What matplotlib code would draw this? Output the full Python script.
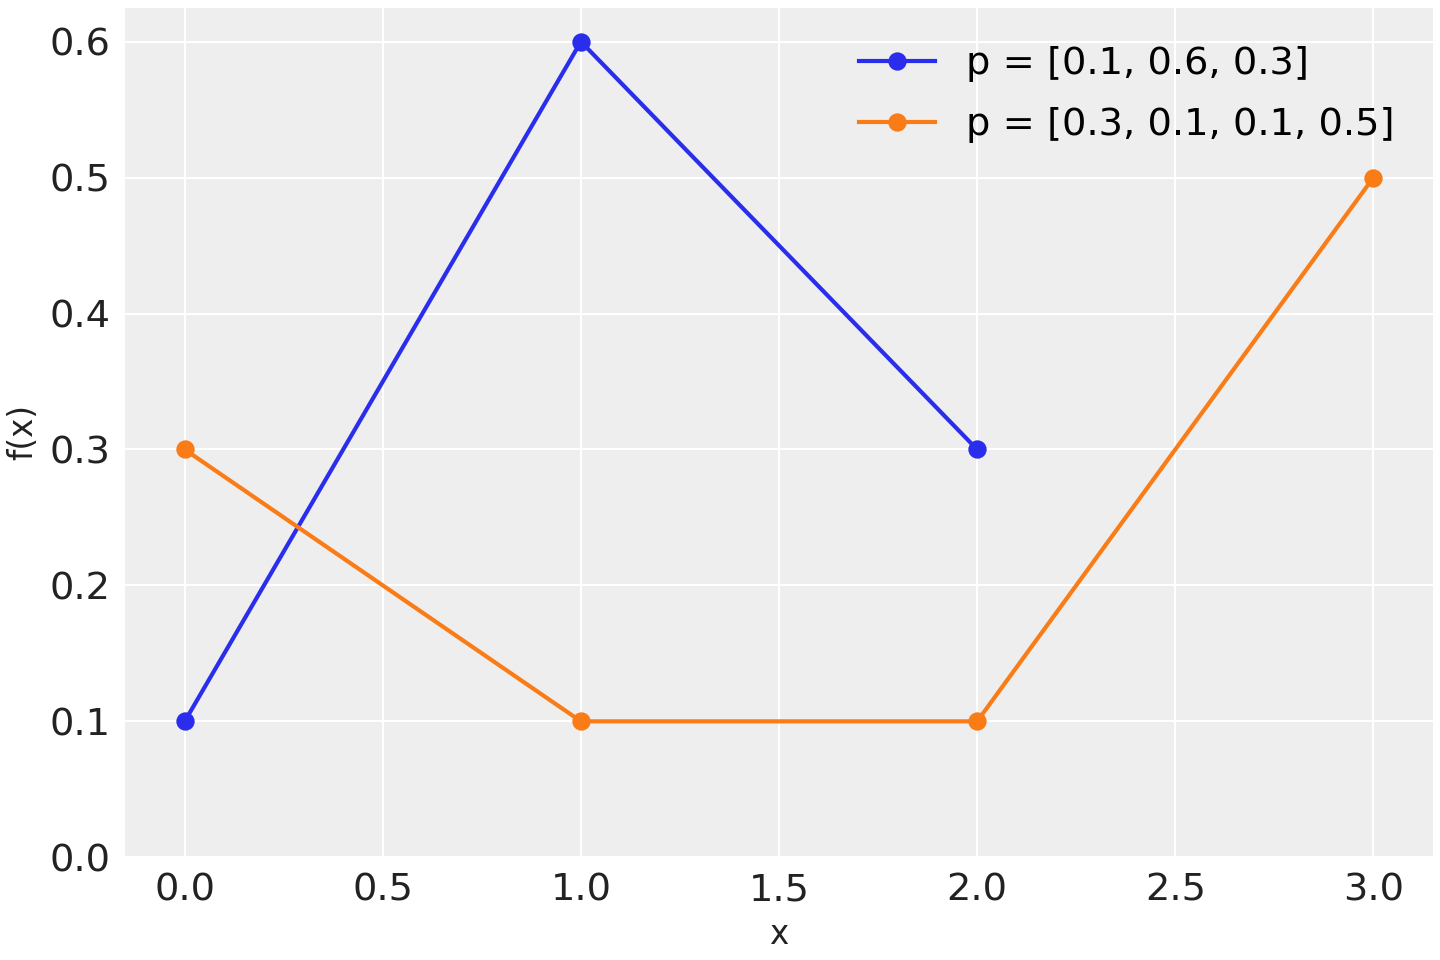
import numpy as np
import matplotlib.pyplot as plt

x_a = [0, 1, 2]
p_a = [0.1, 0.6, 0.3]
x_b = [0, 1, 2, 3]
p_b = [0.3, 0.1, 0.1, 0.5]

fig, ax = plt.subplots(figsize=(12, 8), dpi=120)
ax.set_facecolor('#eeeeee')
for s in ax.spines.values():
    s.set_visible(False)
ax.grid(True, color='white', linewidth=1.2)
ax.set_axisbelow(True)

ax.plot(x_a, p_a, 'o-', color='#2a2eec', lw=2.5, ms=10, label='p = [0.1, 0.6, 0.3]')
ax.plot(x_b, p_b, 'o-', color='#fa7c17', lw=2.5, ms=10, label='p = [0.3, 0.1, 0.1, 0.5]')

ax.set_ylim(bottom=0)
ax.tick_params(labelsize=23, length=0, pad=9, colors='#222222')
ax.set_xlabel('x', fontsize=19.5, color='#222222', labelpad=6)
ax.set_ylabel('f(x)', fontsize=19.5, color='#222222', labelpad=6)
ax.legend(fontsize=23, frameon=False, loc='upper right', labelspacing=0.65,
          borderaxespad=0.6)

fig.subplots_adjust(left=0.087, right=0.995, top=0.992, bottom=0.107)
fig.savefig('out.png')
